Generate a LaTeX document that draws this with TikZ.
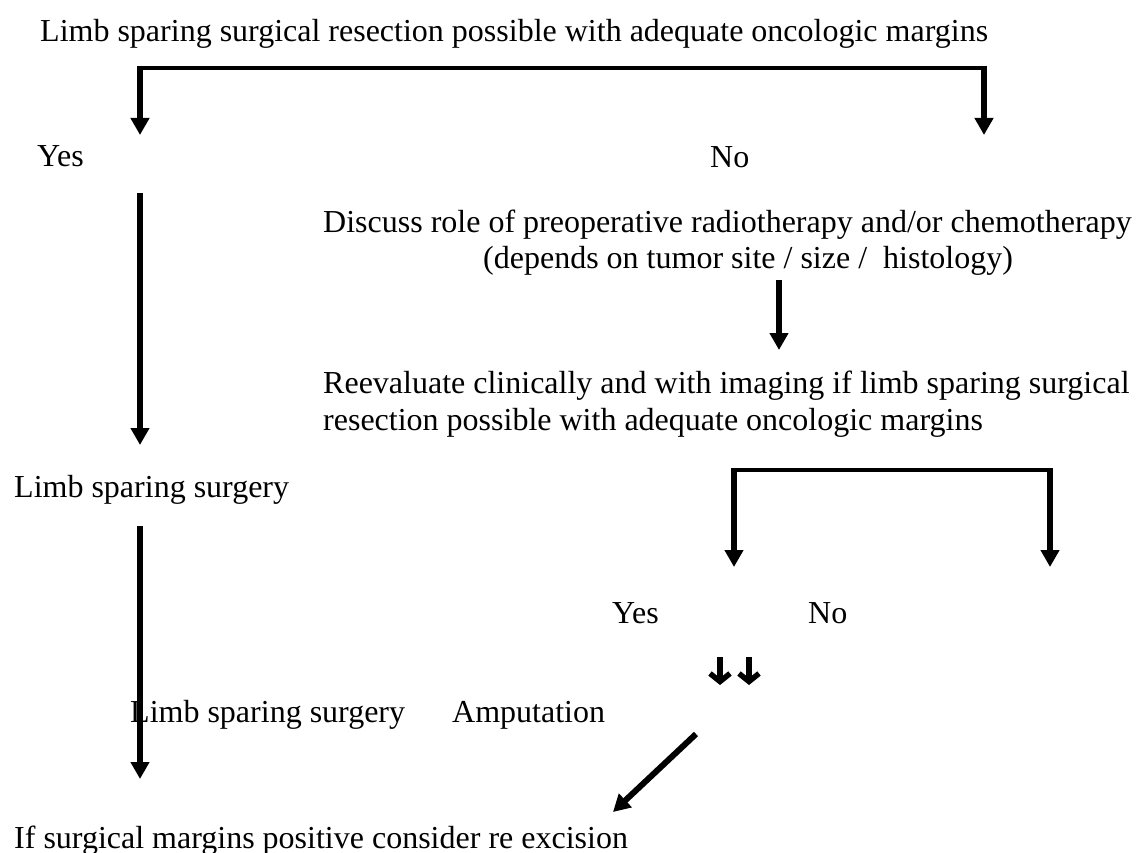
\documentclass[tikz,border=0pt]{standalone}
\usepackage{fontspec}
\setmainfont{Liberation Serif}
\usepackage{tikz}
\usetikzlibrary{shapes,arrows.meta}
\tikzset{
	plain/.style    = {anchor = base west, inner sep = 0pt,
		font = \fontsize{32}{37}\selectfont},
	hbar/.style     = {line width = 4pt}, 
	vbar/.style     = {line width = 6pt, shorten <= -2pt},
	tiny/.style     = {line width = 5.5pt, -{Straight Barb[length=8pt, width=20pt]}},
	point/.style    = {coordinate} % Corner or free end
}

\begin{document}
\begin{tikzpicture}[x=1pt, y=-1pt, >={Triangle[width=18pt, length=17pt]}]
	\useasboundingbox (0,0) rectangle (1145,853);
	\draw
	% Drawing the texts of the first decision
	node at (40,42)[plain] (resect) {Limb sparing surgical resection possible with adequate oncologic margins}
	node at (37,167)[plain] (yes1) {Yes}
	node at (710,168)[plain] (no1) {No}
	node at (14,497)[plain] (surgery1) {Limb sparing surgery}
	node at (323,232)[plain] (discuss) {Discuss role of preoperative radiotherapy and/or chemotherapy}
	node at (483,268)[plain] (depends) {(depends on tumor site / size /\ \ histology)}
	node at (323,430)[plain, align=left] (reeval) {Reevaluate clinically and with imaging if limb sparing surgical\\resection possible with adequate oncologic margins};
	
	\draw
	% Drawing the texts of the second decision
	node at (612,623)[plain] (yes2) {Yes}
	node at (808,623)[plain] (no2) {No}
	node at (130,722)[plain] (surgery2) {Limb sparing surgery}
	node at (452,722)[plain] (amput) {Amputation}
	node at (14,848)[plain] (reexcise) {If surgical margins positive consider re excision};
	
	\draw
	% Corners and free ends of the connectors
	node at (140,68)[point] (b1l) {}
	node at (984,68)[point] (b1r) {}
	node at (140,135)[point] (t1l) {}
	node at (984,135)[point] (t1r) {}
	node at (140,195)[point] (s1) {}
	node at (140,445)[point] (e1) {}
	node at (140,528)[point] (s2) {}
	node at (140,779)[point] (e2) {}
	node at (779,282)[point] (s3) {}
	node at (779,350)[point] (e3) {}
	node at (734,470)[point] (b2l) {}
	node at (1050,470)[point] (b2r) {}
	node at (734,567)[point] (t2l) {}
	node at (1050,567)[point] (t2r) {}
	node at (720,657)[point] (d1s) {}
	node at (720,685)[point] (d1e) {}
	node at (749,657)[point] (d2s) {}
	node at (749,685)[point] (d2e) {}
	node at (696,734)[point] (s4) {}
	node at (613,812)[point] (e4) {};
	
	\draw[hbar](b1l) -- (b1r);
	\draw[vbar, ->](b1l) -- (t1l);
	\draw[vbar, ->](b1r) -- (t1r);
	\draw[vbar, ->](s1) -- (e1);
	\draw[vbar, ->](s2) -- (e2);
	\draw[vbar, ->](s3) -- (e3);
	\draw[hbar](b2l) -- (b2r);
	\draw[vbar, ->](b2l) -- (t2l);
	\draw[vbar, ->](b2r) -- (t2r);
	\draw[tiny](d1s) -- (d1e);
	\draw[tiny](d2s) -- (d2e);
	\draw[vbar, shorten <= 0pt, ->](s4) -- (e4);
	
\end{tikzpicture}
\end{document}
